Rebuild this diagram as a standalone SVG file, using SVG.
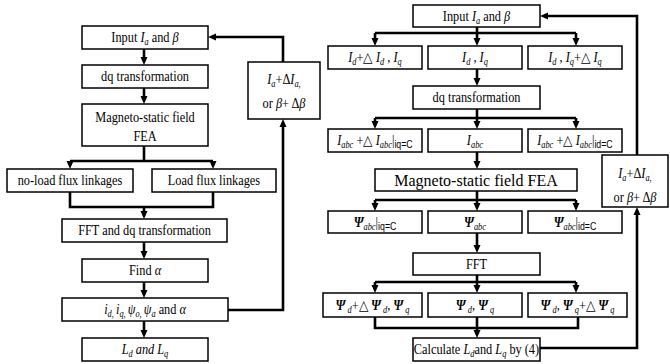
<svg xmlns="http://www.w3.org/2000/svg" width="670" height="364" viewBox="0 0 670 364">
<defs>
<style>
.b{fill:#fff;stroke:#000;stroke-width:1.5}
.c{fill:none;stroke:#000;stroke-width:2.6}
.a{fill:none;stroke:#000;stroke-width:2.6;marker-end:url(#ah)}
text{font-family:"Liberation Serif","Times New Roman",serif;font-size:14px;text-anchor:middle;fill:#000;transform-box:fill-box;transform-origin:center;transform:scaleX(0.88)}
text.big{font-size:16px;transform:none}
.i{font-style:italic}
.s{font-size:9.5px}
.p{font-weight:bold;font-style:italic}
.f{font-family:"Liberation Sans",Arial,sans-serif;font-size:10px}
</style>
<marker id="ah" markerUnits="userSpaceOnUse" markerWidth="8" markerHeight="8" viewBox="0 0 8 8" refX="4" refY="4" orient="auto"><path d="M0,0.5 L8,4 L0,7.5 z" fill="#000"/></marker>
</defs>

<g id="connectors">
<path class="a" d="M144,49 V61"/>
<path class="a" d="M144,88 V100"/>
<path class="c" d="M144,146 V161 M70,161 H213"/>
<path class="a" d="M70,161 V165"/>
<path class="a" d="M213,161 V165"/>
<path class="c" d="M70,192 V207 H213 V192"/>
<path class="a" d="M144,207 V215"/>
<path class="a" d="M144,242 V255"/>
<path class="a" d="M144,282 V294"/>
<path class="a" d="M144,321 V334"/>
<path class="a" d="M228,310 H283 V123"/>
<path class="a" d="M283,62 V37 H212"/>
<path class="c" d="M477,27 V33 M375,33 H576"/>
<path class="a" d="M375,33 V42"/>
<path class="a" d="M477,33 V42"/>
<path class="a" d="M576,33 V42"/>
<path class="a" d="M477,69 V82"/>
<path class="c" d="M477,109 V118 M375,118 H576"/>
<path class="a" d="M375,118 V125"/>
<path class="a" d="M477,118 V125"/>
<path class="a" d="M576,118 V125"/>
<path class="a" d="M477,152 V165"/>
<path class="c" d="M477,191 V200 M375,200 H576"/>
<path class="a" d="M375,200 V207"/>
<path class="a" d="M477,200 V207"/>
<path class="a" d="M576,200 V207"/>
<path class="a" d="M477,233 V249"/>
<path class="c" d="M477,275 V282 M375,282 H576"/>
<path class="a" d="M375,282 V289"/>
<path class="a" d="M477,282 V289"/>
<path class="a" d="M576,282 V289"/>
<path class="c" d="M375,317 V328 H578 V317"/>
<path class="a" d="M477,317 V334"/>
<path class="a" d="M540,348 H637 V211"/>
<path class="a" d="M637,155 V16 H544"/>
</g>

<g id="L-input"><rect class="b" x="82" y="26" width="126" height="23"/>
<text x="145" y="42">Input <tspan class="i">I</tspan><tspan class="i s" dy="3">a</tspan><tspan dy="-3"> and </tspan><tspan class="i">β</tspan></text></g>
<g id="L-dq"><rect class="b" x="82" y="65" width="126" height="23"/>
<text x="145" y="81">dq transformation</text></g>
<g id="L-fea"><rect class="b" x="82" y="104" width="126" height="42"/>
<text x="145" y="122">Magneto-static field</text><text x="145" y="141">FEA</text></g>
<g id="L-noload"><rect class="b" x="7" y="169" width="126" height="23"/>
<text x="70" y="185">no-load flux linkages</text></g>
<g id="L-load"><rect class="b" x="152" y="169" width="124" height="23"/>
<text x="214" y="185">Load flux linkages</text></g>
<g id="L-fft"><rect class="b" x="62" y="219" width="165" height="23"/>
<text x="144.5" y="235">FFT and dq transformation</text></g>
<g id="L-find"><rect class="b" x="82" y="259" width="126" height="23"/>
<text x="145" y="275">Find <tspan class="i">α</tspan></text></g>
<g id="L-params"><rect class="b" x="62" y="298" width="166" height="23"/>
<text x="145" y="314"><tspan class="i">i</tspan><tspan class="i s" dy="3">d</tspan><tspan class="s">, </tspan><tspan class="i" dy="-3">i</tspan><tspan class="i s" dy="3">q</tspan><tspan class="s">, </tspan><tspan class="i" dy="-3">ψ</tspan><tspan class="i s" dy="3">o</tspan><tspan class="s">, </tspan><tspan class="i" dy="-3">ψ</tspan><tspan class="i s" dy="3">a</tspan><tspan dy="-3"> and </tspan><tspan class="i">α</tspan></text></g>
<g id="L-ldlq"><rect class="b" x="82" y="338" width="126" height="23"/>
<text x="145" y="354" class="i">L<tspan class="s" dy="3">d</tspan><tspan dy="-3"> and L</tspan><tspan class="s" dy="3">q</tspan></text></g>
<g id="L-update"><rect class="b" x="248" y="62" width="72" height="57"/>
<text x="284" y="84"><tspan class="i">I</tspan><tspan class="i s" dy="3">a</tspan><tspan dy="-3">+Δ</tspan><tspan class="i">I</tspan><tspan class="i s" dy="3">a</tspan><tspan class="s">,</tspan></text>
<text x="284" y="108">or <tspan class="i">β</tspan>+ Δ<tspan class="i">β</tspan></text></g>

<g id="R-input"><rect class="b" x="413" y="5" width="127" height="22"/>
<text x="476.5" y="21">Input <tspan class="i">I</tspan><tspan class="i s" dy="3">a</tspan><tspan dy="-3"> and </tspan><tspan class="i">β</tspan></text></g>
<g id="R-id1"><rect class="b" x="328" y="46" width="94" height="23"/>
<text x="375" y="62"><tspan class="i">I</tspan><tspan class="i s" dy="3">d</tspan><tspan dy="-3">+△ </tspan><tspan class="i">I</tspan><tspan class="i s" dy="3">d</tspan><tspan dy="-3"> , </tspan><tspan class="i">I</tspan><tspan class="i s" dy="3">q</tspan></text></g>
<g id="R-id2"><rect class="b" x="428" y="46" width="94" height="23"/>
<text x="475" y="62"><tspan class="i">I</tspan><tspan class="i s" dy="3">d</tspan><tspan dy="-3"> , </tspan><tspan class="i">I</tspan><tspan class="i s" dy="3">q</tspan></text></g>
<g id="R-id3"><rect class="b" x="528" y="46" width="94" height="23"/>
<text x="575" y="62"><tspan class="i">I</tspan><tspan class="i s" dy="3">d</tspan><tspan dy="-3"> , </tspan><tspan class="i">I</tspan><tspan class="i s" dy="3">q</tspan><tspan dy="-3">+△ </tspan><tspan class="i">I</tspan><tspan class="i s" dy="3">q</tspan></text></g>
<g id="R-dq"><rect class="b" x="413" y="86" width="127" height="23"/>
<text x="476.5" y="102">dq transformation</text></g>
<g id="R-iabc1"><rect class="b" x="328" y="129" width="94" height="23"/>
<text x="375" y="145"><tspan class="i">I</tspan><tspan class="i s" dy="3">abc</tspan><tspan dy="-3"> +△ </tspan><tspan class="i">I</tspan><tspan class="i s" dy="3">abc</tspan><tspan dy="-3">|</tspan><tspan class="f" dy="3">iq=C</tspan></text></g>
<g id="R-iabc2"><rect class="b" x="428" y="129" width="94" height="23"/>
<text x="475" y="145"><tspan class="i">I</tspan><tspan class="i s" dy="3">abc</tspan></text></g>
<g id="R-iabc3"><rect class="b" x="528" y="129" width="94" height="23"/>
<text x="575" y="145"><tspan class="i">I</tspan><tspan class="i s" dy="3">abc</tspan><tspan dy="-3"> +△ </tspan><tspan class="i">I</tspan><tspan class="i s" dy="3">abc</tspan><tspan dy="-3">|</tspan><tspan class="f" dy="3">id=C</tspan></text></g>
<g id="R-fea"><rect class="b" x="375" y="169" width="202" height="22"/>
<text class="big" x="476" y="186">Magneto-static field FEA</text></g>
<g id="R-psi1"><rect class="b" x="328" y="211" width="94" height="22"/>
<text x="375" y="227"><tspan class="p">Ψ</tspan><tspan class="i s" dy="3">abc</tspan><tspan dy="-3">|</tspan><tspan class="f" dy="3">iq=C</tspan></text></g>
<g id="R-psi2"><rect class="b" x="428" y="211" width="94" height="22"/>
<text x="475" y="227"><tspan class="p">Ψ</tspan><tspan class="i s" dy="3">abc</tspan></text></g>
<g id="R-psi3"><rect class="b" x="528" y="211" width="94" height="22"/>
<text x="575" y="227"><tspan class="p">Ψ</tspan><tspan class="i s" dy="3">abc</tspan><tspan dy="-3">|</tspan><tspan class="f" dy="3">id=C</tspan></text></g>
<g id="R-fft"><rect class="b" x="413" y="253" width="127" height="22"/>
<text x="476.5" y="269">FFT</text></g>
<g id="R-pdq1"><rect class="b" x="323" y="293" width="99" height="24"/>
<text x="372.5" y="310"><tspan class="p">Ψ</tspan><tspan class="i s" dy="3"> d</tspan><tspan dy="-3">+△  </tspan><tspan class="p">Ψ</tspan><tspan class="i s" dy="3"> d</tspan><tspan dy="-3">,  </tspan><tspan class="p">Ψ</tspan><tspan class="i s" dy="3">  q</tspan></text></g>
<g id="R-pdq2"><rect class="b" x="428" y="293" width="94" height="24"/>
<text x="475" y="310"><tspan class="p">Ψ</tspan><tspan class="i s" dy="3"> d</tspan><tspan dy="-3">,  </tspan><tspan class="p">Ψ</tspan><tspan class="i s" dy="3">  q</tspan></text></g>
<g id="R-pdq3"><rect class="b" x="528" y="293" width="99" height="24"/>
<text x="577.5" y="310"><tspan class="p">Ψ</tspan><tspan class="i s" dy="3"> d</tspan><tspan dy="-3">,  </tspan><tspan class="p">Ψ</tspan><tspan class="i s" dy="3">  q</tspan><tspan dy="-3">+△  </tspan><tspan class="p">Ψ</tspan><tspan class="i s" dy="3">  q</tspan></text></g>
<g id="R-calc"><rect class="b" x="413" y="338" width="127" height="23"/>
<text x="476.5" y="354">Calculate <tspan class="i">L</tspan><tspan class="i s" dy="3">d</tspan><tspan dy="-3">and </tspan><tspan class="i">L</tspan><tspan class="i s" dy="3">q</tspan><tspan dy="-3"> by (4)</tspan></text></g>
<g id="R-update"><rect class="b" x="602" y="155" width="66" height="52"/>
<text x="635" y="178"><tspan class="i">I</tspan><tspan class="i s" dy="3">a</tspan><tspan dy="-3">+Δ</tspan><tspan class="i">I</tspan><tspan class="i s" dy="3">a</tspan><tspan class="s">,</tspan></text>
<text x="635" y="202">or <tspan class="i">β</tspan>+ Δ<tspan class="i">β</tspan></text></g>
</svg>
